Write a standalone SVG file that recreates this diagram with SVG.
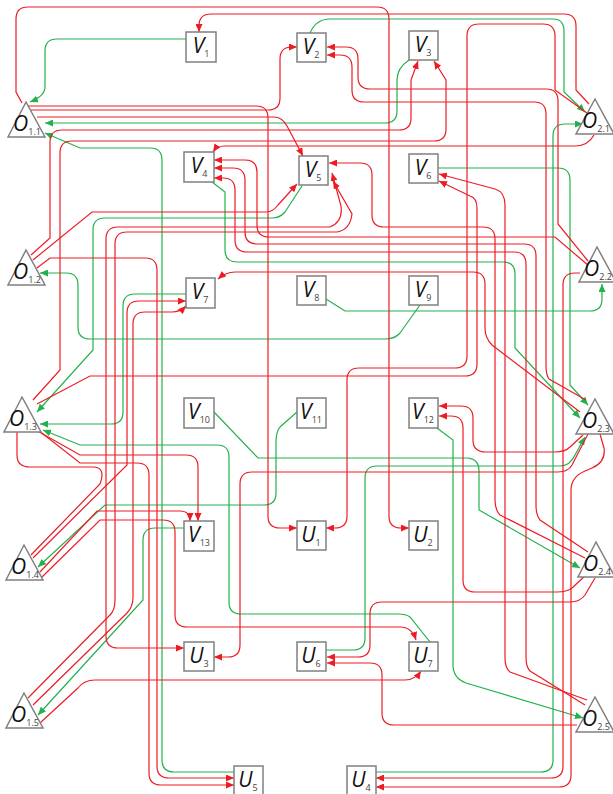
<svg xmlns="http://www.w3.org/2000/svg" width="613" height="794" viewBox="0 0 613 794">
<style>
.n{fill:#fff;stroke:#808080;stroke-width:1.5}
.t{font-family:"Open Sans","Noto Sans",sans-serif;font-style:italic;font-size:21px;fill:#111}
.s{font-style:normal;font-size:9px;fill:#444}
.r,.rb,.rl{fill:none;stroke:#ed1c24;stroke-width:1.2}
.g{fill:none;stroke:#22b14c;stroke-width:1.2}
.r,.rb{marker-end:url(#ar)}
.rb{marker-start:url(#ar)}
.g{marker-end:url(#ag)}
</style>
<defs>
<marker id="ar" viewBox="0 0 8 7" refX="8" refY="3.5" markerWidth="8" markerHeight="7" orient="auto-start-reverse" markerUnits="userSpaceOnUse"><path d="M0,0L8,3.5L0,7z" fill="#ed1c24"/></marker>
<marker id="ag" viewBox="0 0 8 7" refX="8" refY="3.5" markerWidth="8" markerHeight="7" orient="auto" markerUnits="userSpaceOnUse"><path d="M0,0L8,3.5L0,7z" fill="#22b14c"/></marker>
</defs>
<g id="connectors">
<path class="g" d="M186,39 H57 Q45,39 45,51 V87 Q45,96 30,102"/>
<path class="g" d="M310,33 Q316,19 330,19 H553 Q564,19 564,31 V92 L585,112"/>
<path class="g" d="M409,60 Q397,68 397,80 V111 Q397,123 385,123 H45"/>
<path class="g" d="M234,772 H174 Q162,772 162,760 V160 Q162,148 150,148 H80 L45,133"/>
<path class="g" d="M376,772 H541 Q553,772 553,760 V136 Q553,124 565,124 H583"/>
<path class="g" d="M212,182 L225,192 V250 Q225,262 237,262 H503 Q515,262 515,274 V348 L580,418"/>
<path class="g" d="M302,186 L285,212 Q280,218 272,218 H105 Q93,218 93,230 V350 L37,412"/>
<path class="g" d="M438,168 H558 Q570,168 570,180 V385 L588,405"/>
<path class="g" d="M186,294 H135 Q123,294 123,306 V412 Q123,424 111,424 H40"/>
<path class="g" d="M430,642 L410,617 Q406,614 398,614 H241 Q229,614 229,602 V457 Q229,445 217,445 H80 L43,430"/>
<path class="g" d="M326,299 L345,311 H590 Q602,311 602,299 V284"/>
<path class="g" d="M420,305 L400,333 Q395,339 385,339 H90 Q78,339 78,327 V285 Q78,273 66,273 H40"/>
<path class="g" d="M214,412 L258,458 H468 Q479,459 479,471 V510 L580,568"/>
<path class="g" d="M297,412 L280,427 Q276,432 276,442 V493 Q276,505 264,505 H105 L38,567"/>
<path class="g" d="M433,425 L453,440 V665 Q453,678 466,683 L583,718"/>
<path class="g" d="M184,528 H155 Q143,528 143,540 V600 L38,715"/>
<path class="g" d="M326,650 H353 Q365,650 365,638 V478 Q365,466 377,466 H560 Q570,466 575,455 L585,437"/>

<path class="r" d="M22,103 L16,92 V19 Q16,7 28,7 H377 Q389,7 389,19 V516 Q389,528 401,528 H409"/>
<path class="r" d="M27,106 H256 Q268,106 268,118 V516 Q268,528 280,528 H297"/>
<path class="r" d="M31,110 H268 Q280,110 280,98 V59 Q280,47 292,47 H297"/>
<path class="r" d="M37,117 H274 Q282,117 287,126 L303,156"/>
<path class="r" d="M31,255 L50,238 V142 Q50,130 62,130 H399 Q411,130 411,118 V80 L418,61"/>
<path class="r" d="M33,400 L60,370 V153 Q60,141 72,141 H434 Q446,141 446,129 V80 L434,61"/>
<path class="r" d="M589,104 L576,90 V26 Q576,14 564,14 H211 Q199,14 199,26 V32"/>
<path class="r" d="M587,113 L555,90 V36 Q555,24 543,24 H479 Q467,24 467,36 V356 Q467,368 455,368 H359 Q347,368 347,380 V516 Q347,528 335,528 H326"/>
<path class="r" d="M594,135 Q588,146 575,146 H224 Q217,146 213,152"/>
<path class="r" d="M588,261 L558,224 V101 Q558,89 546,89 H370 Q358,89 358,77 V59 Q358,47 346,47 H327"/>
<path class="r" d="M586,400 L549,379 Q546,375 546,365 V114 Q546,102 534,102 H364 Q352,102 352,90 V67 Q352,55 340,55 H327"/>
<path class="r" d="M589,266 L555,237 H269 Q257,237 257,225 V172 Q257,160 245,160 H214"/>
<path class="r" d="M588,552 L540,520 Q536,515 536,505 V256 Q536,244 524,244 H257 Q245,244 245,232 V180 Q245,168 233,168 H214"/>
<path class="r" d="M585,705 L530,671 Q526,667 526,657 V264 Q526,252 514,252 H247 Q235,252 235,240 V190 Q235,178 223,178 H214"/>
<path class="r" d="M585,558 L500,515 Q495,510 495,500 V239 Q495,227 483,227 H384 Q372,227 372,215 V175 Q372,163 360,163 H329"/>
<path class="r" d="M587,700 L510,672 Q505,668 505,658 V205 Q505,192 495,189 L439,174"/>
<path class="r" d="M37,404 L90,376 H465 Q477,376 477,364 V208 Q477,198 470,196 L439,181"/>
<path class="r" d="M580,412 L492,345 Q485,338 485,328 V284 Q485,272 473,272 H235 Q226,272 218,279"/>
<path class="r" d="M583,435 L570,447 Q565,452 555,452 H486 Q473,452 473,440 V418 Q473,406 461,406 H439"/>
<path class="r" d="M586,575 L572,588 Q567,592 557,592 H475 Q463,592 463,580 V428 Q463,416 451,416 H439"/>
<path class="r" d="M588,434 L572,465 Q568,472 558,472 H252 Q240,472 240,484 V645 Q240,657 228,657 H214"/>
<path class="r" d="M580,273 H575 Q563,273 563,285 V766 Q563,778 551,778 H376"/>
<path class="r" d="M600,434 L604,448 Q606,462 592,468 L585,471 Q571,477 571,490 V775 Q571,787 559,787 H376"/>
<path class="r" d="M34,429 L80,455 H186 Q198,455 198,467 V521"/>
<path class="r" d="M38,430 L80,463 H137 Q149,463 149,475 V773 Q149,785 161,785 H234"/>
<path class="r" d="M37,268 L50,258 H145 Q157,258 157,270 V766 Q157,778 169,778 H234"/>
<path class="r" d="M33,260 L92,212 H266 Q273,212 278,205 L297,184"/>
<path class="r" d="M595,578 L585,595 Q580,602 570,602 H382 Q370,602 370,614 V645 Q370,657 358,657 H327"/>
<path class="r" d="M577,725 H394 Q382,725 382,713 V675 Q382,663 370,663 H327"/>
<path class="r" d="M40,723 L78,688 Q84,680 95,680 H405 Q415,680 421,671"/>
<path class="r" d="M28,698 L110,615 Q115,610 115,600 V244 Q115,232 127,232 H337 Q350,230 352,214 L333,181"/>
<path class="r" d="M33,705 L127,613 Q133,607 133,597 V324 Q133,312 145,312 H172 Q180,312 186,306"/>
<path class="rb" d="M332,173 L341,206 Q343,222 330,227 H118 Q106,227 106,239 V636 Q106,648 118,648 H184"/>
<path class="r" d="M33,558 L127,465 V313 Q127,301 139,301 H186"/>
<path class="r" d="M40,572 L97,511 H180 Q190,511 190,521"/>
<path class="r" d="M42,577 L100,520 H163 Q175,520 175,532 V615 Q175,627 187,627 H400 Q412,627 416,640"/>
<path class="rl" d="M17,432 V455 Q17,467 30,467 H94 Q106,468 100,484 L31,555"/>
</g>
<g id="V1"><rect class="n" x="186" y="32" width="30" height="30"/><text class="t" x="201" y="53" text-anchor="middle">V<tspan class="s" dy="4">1</tspan></text></g>
<g id="V2"><rect class="n" x="297" y="33" width="29" height="29"/><text class="t" x="311" y="54" text-anchor="middle">V<tspan class="s" dy="4">2</tspan></text></g>
<g id="V3"><rect class="n" x="409" y="31" width="29" height="29"/><text class="t" x="423" y="52" text-anchor="middle">V<tspan class="s" dy="4">3</tspan></text></g>
<g id="V4"><rect class="n" x="184" y="152" width="30" height="30"/><text class="t" x="199" y="173" text-anchor="middle">V<tspan class="s" dy="4">4</tspan></text></g>
<g id="V5"><rect class="n" x="299" y="156" width="29" height="29"/><text class="t" x="313" y="177" text-anchor="middle">V<tspan class="s" dy="4">5</tspan></text></g>
<g id="V6"><rect class="n" x="409" y="154" width="29" height="29"/><text class="t" x="423" y="175" text-anchor="middle">V<tspan class="s" dy="4">6</tspan></text></g>
<g id="V7"><rect class="n" x="186" y="278" width="29" height="30"/><text class="t" x="200" y="299" text-anchor="middle">V<tspan class="s" dy="4">7</tspan></text></g>
<g id="V8"><rect class="n" x="297" y="276" width="29" height="29"/><text class="t" x="311" y="297" text-anchor="middle">V<tspan class="s" dy="4">8</tspan></text></g>
<g id="V9"><rect class="n" x="409" y="276" width="29" height="29"/><text class="t" x="423" y="297" text-anchor="middle">V<tspan class="s" dy="4">9</tspan></text></g>
<g id="V10"><rect class="n" x="184" y="398" width="30" height="30"/><text class="t" x="199" y="419" text-anchor="middle">V<tspan class="s" dy="4">10</tspan></text></g>
<g id="V11"><rect class="n" x="297" y="398" width="29" height="30"/><text class="t" x="311" y="419" text-anchor="middle">V<tspan class="s" dy="4">11</tspan></text></g>
<g id="V12"><rect class="n" x="409" y="398" width="29" height="30"/><text class="t" x="423" y="419" text-anchor="middle">V<tspan class="s" dy="4">12</tspan></text></g>
<g id="V13"><rect class="n" x="184" y="521" width="30" height="30"/><text class="t" x="199" y="542" text-anchor="middle">V<tspan class="s" dy="4">13</tspan></text></g>
<g id="U1"><rect class="n" x="297" y="521" width="29" height="29"/><text class="t" x="311" y="542" text-anchor="middle">U<tspan class="s" dy="4">1</tspan></text></g>
<g id="U2"><rect class="n" x="409" y="521" width="29" height="29"/><text class="t" x="423" y="542" text-anchor="middle">U<tspan class="s" dy="4">2</tspan></text></g>
<g id="U3"><rect class="n" x="184" y="642" width="30" height="29"/><text class="t" x="199" y="663" text-anchor="middle">U<tspan class="s" dy="4">3</tspan></text></g>
<g id="U6"><rect class="n" x="297" y="642" width="29" height="29"/><text class="t" x="311" y="663" text-anchor="middle">U<tspan class="s" dy="4">6</tspan></text></g>
<g id="U7"><rect class="n" x="409" y="642" width="29" height="29"/><text class="t" x="423" y="663" text-anchor="middle">U<tspan class="s" dy="4">7</tspan></text></g>
<g id="U5"><rect class="n" x="234" y="766" width="29" height="32"/><text class="t" x="248" y="787" text-anchor="middle">U<tspan class="s" dy="4">5</tspan></text></g>
<g id="U4"><rect class="n" x="347" y="766" width="29" height="32"/><text class="t" x="361" y="787" text-anchor="middle">U<tspan class="s" dy="4">4</tspan></text></g>
<g id="O1.1"><path class="n" d="M26,102 L45,137 H8 Z"/><text class="t" x="27" y="131" text-anchor="middle">O<tspan class="s" dy="4">1.1</tspan></text></g>
<g id="O1.2"><path class="n" d="M26,250 L45,285 H8 Z"/><text class="t" x="27" y="279" text-anchor="middle">O<tspan class="s" dy="4">1.2</tspan></text></g>
<g id="O1.3"><path class="n" d="M22,397 L41,432 H4 Z"/><text class="t" x="23" y="426" text-anchor="middle">O<tspan class="s" dy="4">1.3</tspan></text></g>
<g id="O1.4"><path class="n" d="M24,545 L43,580 H6 Z"/><text class="t" x="25" y="574" text-anchor="middle">O<tspan class="s" dy="4">1.4</tspan></text></g>
<g id="O1.5"><path class="n" d="M24,693 L43,728 H6 Z"/><text class="t" x="25" y="722" text-anchor="middle">O<tspan class="s" dy="4">1.5</tspan></text></g>
<g id="O2.1"><path class="n" d="M595,99 L614,134 H576 Z"/><text class="t" x="596" y="128" text-anchor="middle">O<tspan class="s" dy="4">2.1</tspan></text></g>
<g id="O2.2"><path class="n" d="M597,247 L616,282 H579 Z"/><text class="t" x="598" y="276" text-anchor="middle">O<tspan class="s" dy="4">2.2</tspan></text></g>
<g id="O2.3"><path class="n" d="M595,399 L614,434 H576 Z"/><text class="t" x="596" y="428" text-anchor="middle">O<tspan class="s" dy="4">2.3</tspan></text></g>
<g id="O2.4"><path class="n" d="M596,542 L615,577 H578 Z"/><text class="t" x="597" y="571" text-anchor="middle">O<tspan class="s" dy="4">2.4</tspan></text></g>
<g id="O2.5"><path class="n" d="M595,697 L614,732 H576 Z"/><text class="t" x="596" y="726" text-anchor="middle">O<tspan class="s" dy="4">2.5</tspan></text></g>
</svg>
